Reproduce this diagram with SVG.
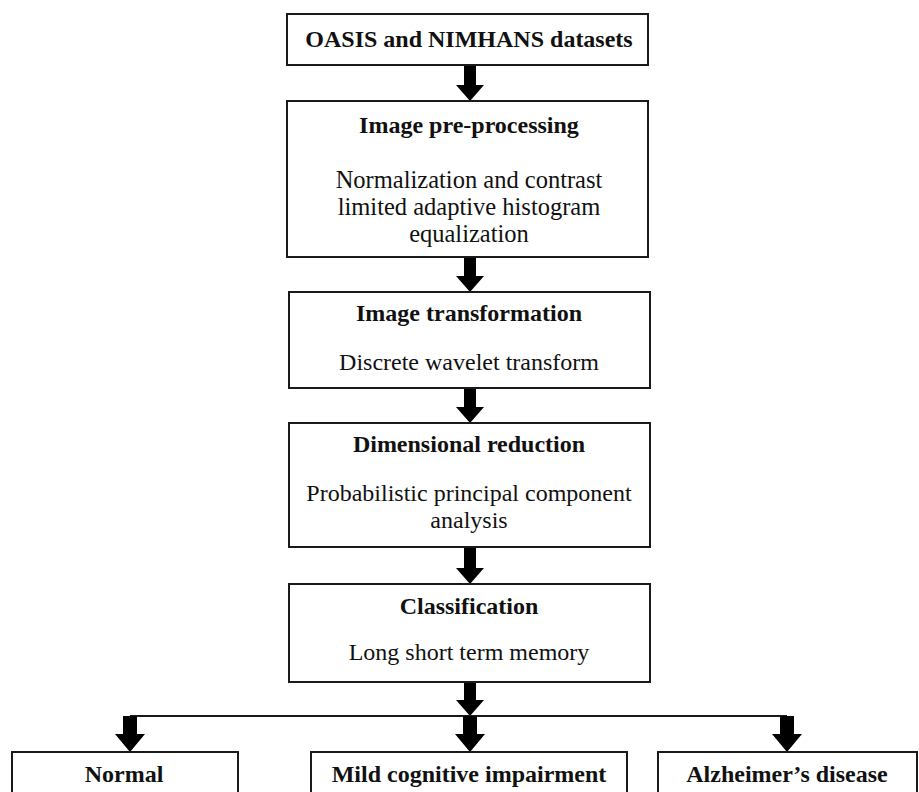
<svg xmlns="http://www.w3.org/2000/svg" width="919" height="792" viewBox="0 0 919 792">
<style>
.box{fill:#fff;stroke:#1a1a1a;stroke-width:2}
.h{font-family:"Liberation Serif","Times New Roman",serif;font-weight:bold;font-size:24px;fill:#111;text-anchor:middle}
.t{font-family:"Liberation Serif","Times New Roman",serif;font-size:24px;fill:#111;text-anchor:middle}
.t2{font-size:24.5px}
.ar{fill:#000}
.ln{stroke:#1a1a1a;stroke-width:2;fill:none}
</style>
<rect width="919" height="792" fill="#fff"/>
<g id="connectors">
<path class="ar" d="M464,65 H476 V85 H484 L470,101 L456,85 H464 Z"/>
<path class="ar" d="M464,257 H476 V276 H484 L470,292 L456,276 H464 Z"/>
<path class="ar" d="M464,388 H476 V407 H484 L470,423 L456,407 H464 Z"/>
<path class="ar" d="M464,547 H476 V568 H484 L470,584 L456,568 H464 Z"/>
<path class="ar" d="M464,682 H476 V700 H484 L470,716 L456,700 H464 Z"/>
<line class="ln" x1="130" y1="716" x2="787" y2="716"/>
<path class="ar" d="M123,716 H137 V734 H145 L130,752 L115,734 H123 Z"/>
<path class="ar" d="M463,716 H477 V734 H485 L470,752 L455,734 H463 Z"/>
<path class="ar" d="M780,716 H794 V734 H802 L787,752 L772,734 H780 Z"/>
</g>
<g id="n1">
<rect class="box" x="287" y="14" width="361" height="51"/>
<text class="h" x="469" y="47">OASIS and NIMHANS datasets</text>
</g>
<g id="n2">
<rect class="box" x="287" y="101" width="361" height="156"/>
<text class="h" x="469" y="133">Image pre-processing</text>
<text class="t t2" x="469" y="188">Normalization and contrast</text>
<text class="t t2" x="469" y="215">limited adaptive histogram</text>
<text class="t t2" x="469" y="242">equalization</text>
</g>
<g id="n3">
<rect class="box" x="289" y="292" width="361" height="96"/>
<text class="h" x="469" y="321">Image transformation</text>
<text class="t" x="469" y="370">Discrete wavelet transform</text>
</g>
<g id="n4">
<rect class="box" x="289" y="423" width="361" height="124"/>
<text class="h" x="469" y="452">Dimensional reduction</text>
<text class="t" x="469" y="501">Probabilistic principal component</text>
<text class="t" x="469" y="528">analysis</text>
</g>
<g id="n5">
<rect class="box" x="289" y="584" width="361" height="98"/>
<text class="h" x="469" y="614">Classification</text>
<text class="t" x="469" y="660">Long short term memory</text>
</g>
<g id="n6">
<rect class="box" x="12" y="752" width="226" height="60"/>
<text class="h" x="124" y="782">Normal</text>
</g>
<g id="n7">
<rect class="box" x="311" y="752" width="316" height="60"/>
<text class="h" x="469" y="782">Mild cognitive impairment</text>
</g>
<g id="n8">
<rect class="box" x="658" y="752" width="259" height="60"/>
<text class="h" x="787" y="782">Alzheimer’s disease</text>
</g>
</svg>
